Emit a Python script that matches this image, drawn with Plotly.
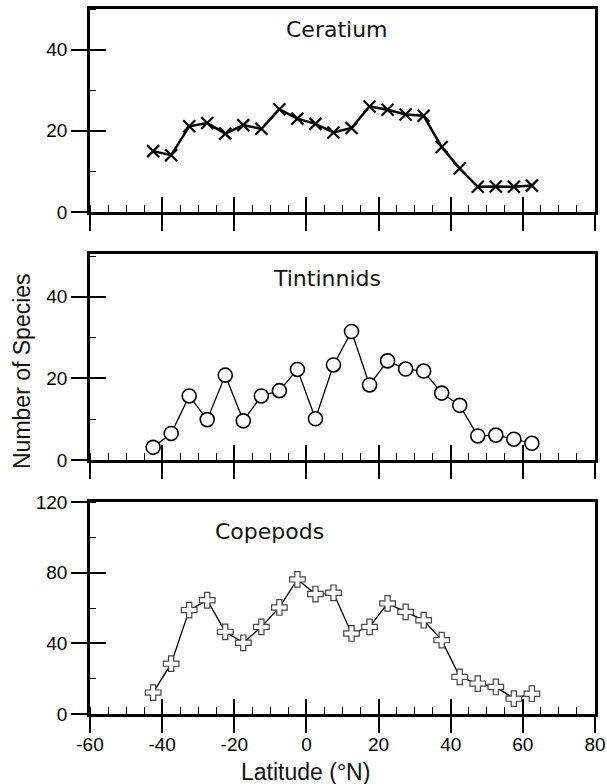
import plotly.graph_objects as go

latitude = [-42.5, -37.5, -32.5, -27.5, -22.5, -17.5, -12.5, -7.5, -2.5, 2.5, 7.5,
            12.5, 17.5, 22.5, 27.5, 32.5, 37.5, 42.5, 47.5, 52.5, 57.5, 62.5]
ceratium = [15, 14, 21.1, 21.9, 19.3, 21.4, 20.5, 25.3, 23, 21.7, 19.6, 20.7,
            26, 25.2, 24, 23.7, 16, 10.7, 6.2, 6.3, 6.2, 6.5]
tintinnids = [3.1, 6.5, 15.7, 9.9, 20.8, 9.6, 15.7, 17.0, 22.2, 10.1, 23.3, 31.5,
              18.4, 24.3, 22.3, 21.8, 16.4, 13.4, 5.9, 6.1, 5.1, 4.1]
copepods = [12.1, 28.5, 58.8, 64.4, 46.5, 40.3, 49.3, 60.3, 76.2, 67.9, 68.6, 45.6,
            49.3, 62.6, 57.8, 53.1, 41.8, 21.0, 17.2, 15.3, 8.7, 11.5]
panel_titles = ["Ceratium", "Tintinnids", "Copepods"]
x_ticks = [-60, -40, -20, 0, 20, 40, 60, 80]

W, H = 607, 784
ML, MR, MT, MB = 90, 12, 9, 70
ph = H - MT - MB
def pdom(top_px, bot_px):
    return [(H - MB - bot_px) / ph, (H - MB - top_px) / ph]

doms = [pdom(9, 212), pdom(254, 460), pdom(502, 714)]
yranges = [[0, 50], [0, 50.5], [0, 120]]
ydt = [20, 20, 40]

fig = go.Figure()
fig.add_trace(go.Scatter(x=latitude, y=ceratium, mode="lines+markers",
                         line=dict(color="black", width=2.5),
                         marker=dict(symbol="x-thin", size=12, line=dict(color="black", width=2.2)),
                         xaxis="x", yaxis="y", showlegend=False))
fig.add_trace(go.Scatter(x=latitude, y=tintinnids, mode="lines+markers",
                         line=dict(color="black", width=1.3),
                         marker=dict(symbol="circle", size=14, color="white",
                                     line=dict(color="black", width=1.6)),
                         xaxis="x2", yaxis="y2", showlegend=False))
fig.add_trace(go.Scatter(x=latitude, y=copepods, mode="lines+markers",
                         line=dict(color="black", width=1.3),
                         marker=dict(symbol="cross", size=13, color="white",
                                     line=dict(color="#444", width=1.2)),
                         xaxis="x3", yaxis="y3", showlegend=False))

layout = dict(width=W, height=H, margin=dict(l=ML, r=MR, t=MT, b=MB, autoexpand=False),
              paper_bgcolor="white", plot_bgcolor="white",
              font=dict(family="Liberation Sans, Arial", size=19, color="black"))

for i in range(3):
    n = i + 1
    xs = "" if n == 1 else str(n)
    ov = str(n + 3)
    layout["xaxis" + xs] = dict(
        domain=[0, 1], anchor="y" + xs, range=[-60, 80], tickvals=x_ticks,
        ticktext=[str(v) for v in x_ticks], showticklabels=(n == 3),
        ticks="outside", ticklen=16, tickwidth=2, tickcolor="black",
        ticklabelstandoff=-5,
        minor=dict(ticks="inside", dtick=5, tick0=0, ticklen=7, tickwidth=1.3, tickcolor="black"),
        showline=True, linewidth=2.5, linecolor="black", mirror=True,
        showgrid=False, zeroline=False, fixedrange=True, automargin=False,
        tickfont=dict(size=19))
    layout["yaxis" + xs] = dict(
        domain=doms[i], anchor="x" + xs, range=yranges[i], dtick=ydt[i], tick0=0,
        ticks="outside", ticklen=16, tickwidth=2, tickcolor="black",
        minor=dict(ticks="inside", dtick=ydt[i] / 2, tick0=0, ticklen=6, tickwidth=1.3, tickcolor="black"),
        showline=True, linewidth=2.5, linecolor="black", mirror=True,
        showgrid=False, zeroline=False, fixedrange=True, automargin=False,
        tickfont=dict(size=19))
    # overlay axes for inside half of major ticks
    layout["xaxis" + ov] = dict(
        overlaying="x" + xs, anchor="y" + xs, range=[-60, 80], tickvals=x_ticks,
        showticklabels=False, ticks="inside", ticklen=15, tickwidth=2, tickcolor="black",
        showline=False, showgrid=False, zeroline=False, fixedrange=True, automargin=False)
    layout["yaxis" + ov] = dict(
        overlaying="y" + xs, anchor="x" + xs, range=yranges[i], dtick=ydt[i], tick0=0,
        showticklabels=False, ticks="inside", ticklen=16, tickwidth=2, tickcolor="black",
        showline=False, showgrid=False, zeroline=False, fixedrange=True, automargin=False)
    fig.add_trace(go.Scatter(x=[None], y=[None], xaxis="x" + ov, yaxis="y" + ov,
                             showlegend=False, hoverinfo="skip"))

fig.update_layout(**layout)

title_pos = [(0.489, 0.90), (0.469, 0.883), (0.356, 0.86)]
for i, t in enumerate(panel_titles):
    xs = "" if i == 0 else str(i + 1)
    fig.add_annotation(text=t, xref="x" + xs + " domain", yref="y" + xs + " domain",
                       x=title_pos[i][0], y=title_pos[i][1], showarrow=False,
                       xanchor="center", yanchor="middle",
                       font=dict(family="DejaVu Sans", size=22, color="#111"))

fig.add_annotation(text="Number of Species", xref="paper", yref="paper",
                   x=(22 - ML) / (W - ML - MR), y=(H - MB - 371) / ph, textangle=-90,
                   showarrow=False, xanchor="center", yanchor="middle",
                   font=dict(family="Liberation Sans, Arial", size=23, color="#111"))
fig.add_annotation(text="Latitude (°N)", xref="paper", yref="paper",
                   x=(305 - ML) / (W - ML - MR), y=(H - MB - 772) / ph,
                   showarrow=False, xanchor="center", yanchor="middle",
                   font=dict(family="Liberation Sans, Arial", size=23, color="#111"))

fig.write_html("out.html", config={"displayModeBar": False},
               post_script="document.body.style.margin='0';document.body.style.overflow='hidden';")
